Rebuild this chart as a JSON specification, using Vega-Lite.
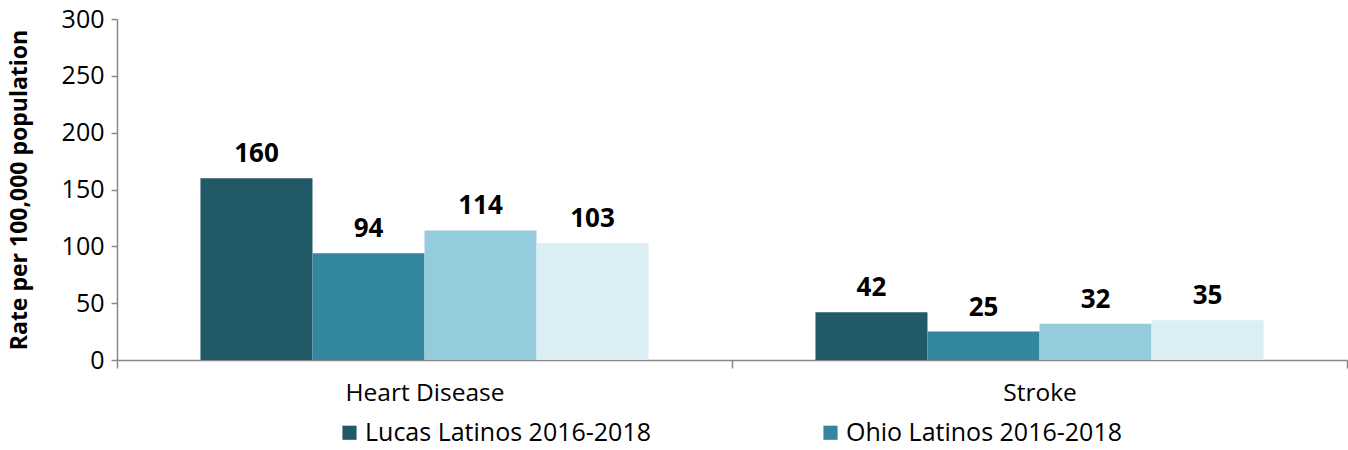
{
  "$schema": "https://vega.github.io/schema/vega-lite/v6.json",
  "width": 1230,
  "height": 341,
  "autosize": {"type": "none"},
  "padding": {"left": 117, "top": 19, "right": 1, "bottom": 90},
  "config": {
    "view": {"stroke": null},
    "font": "Open Sans"
  },
  "data": {
    "values": [
      {"cause": "Heart Disease", "series": "Lucas Latinos 2016-2018", "rate": 160},
      {"cause": "Heart Disease", "series": "Ohio Latinos 2016-2018", "rate": 94},
      {"cause": "Heart Disease", "series": "Lucas County 2016-2018", "rate": 114},
      {"cause": "Heart Disease", "series": "Ohio 2016-2018", "rate": 103},
      {"cause": "Stroke", "series": "Lucas Latinos 2016-2018", "rate": 42},
      {"cause": "Stroke", "series": "Ohio Latinos 2016-2018", "rate": 25},
      {"cause": "Stroke", "series": "Lucas County 2016-2018", "rate": 32},
      {"cause": "Stroke", "series": "Ohio 2016-2018", "rate": 35}
    ]
  },
  "encoding": {
    "x": {
      "field": "cause",
      "type": "nominal",
      "sort": ["Heart Disease", "Stroke"],
      "scale": {"paddingInner": 0, "paddingOuter": 0},
      "axis": {
        "title": null,
        "labelAngle": 0,
        "labelFontSize": 24.5,
        "labelColor": "#000000",
        "labelPadding": 13,
        "tickBand": "extent",
        "tickSize": 8,
        "tickColor": "#888888",
        "tickWidth": 1.5,
        "domainColor": "#888888",
        "domainWidth": 1.5
      }
    },
    "xOffset": {
      "field": "series",
      "type": "nominal",
      "sort": ["Lucas Latinos 2016-2018", "Ohio Latinos 2016-2018", "Lucas County 2016-2018", "Ohio 2016-2018"],
      "scale": {"paddingInner": 0, "paddingOuter": 0.745}
    },
    "y": {
      "field": "rate",
      "type": "quantitative",
      "scale": {"domain": [0, 300]},
      "axis": {
        "title": "Rate per 100,000 population",
        "titleFontSize": 23,
        "titleFontWeight": "bold",
        "titleColor": "#000000",
        "titlePadding": 30,
        "values": [0, 50, 100, 150, 200, 250, 300],
        "grid": false,
        "labelFontSize": 25,
        "labelColor": "#000000",
        "labelPadding": 7,
        "tickSize": 6,
        "tickColor": "#888888",
        "tickWidth": 1.5,
        "domainColor": "#888888",
        "domainWidth": 1.5
      }
    }
  },
  "layer": [
    {
      "mark": {"type": "bar"},
      "encoding": {
        "color": {
          "field": "series",
          "type": "nominal",
          "scale": {
            "domain": ["Lucas Latinos 2016-2018", "Ohio Latinos 2016-2018", "Lucas County 2016-2018", "Ohio 2016-2018"],
            "range": ["#225966", "#32869e", "#95ccdd", "#dbeef4"]
          },
          "legend": {
            "title": null,
            "values": ["Lucas Latinos 2016-2018", "Ohio Latinos 2016-2018"],
            "orient": "none",
            "legendX": 220,
            "legendY": 401,
            "direction": "horizontal",
            "columns": 2,
            "symbolType": "square",
            "symbolSize": 200,
            "symbolStrokeWidth": 0,
            "labelFontSize": 25,
            "labelColor": "#000000",
            "labelOffset": 3,
            "labelLimit": 500,
            "columnPadding": 167
          }
        }
      }
    },
    {
      "mark": {"type": "text", "dy": -16, "baseline": "alphabetic", "fontSize": 26, "fontWeight": "bold", "color": "#000000"},
      "encoding": {
        "text": {"field": "rate", "type": "quantitative"}
      }
    }
  ]
}
